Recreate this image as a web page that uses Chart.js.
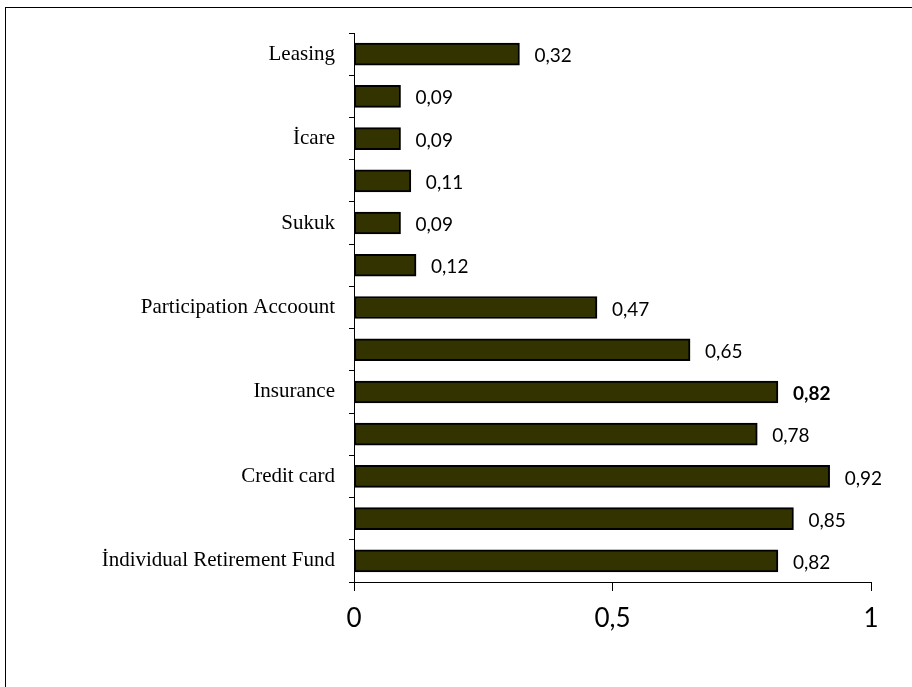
<!DOCTYPE html>
<html>
<head>
<meta charset="utf-8">
<script src="https://cdn.jsdelivr.net/npm/chart.js@4/dist/chart.umd.min.js"></script>
<style>
  html, body { margin: 0; padding: 0; background: #fff; overflow: hidden; }
  #wrap { width: 912px; height: 687px; }
</style>
</head>
<body>
<div id="wrap"><canvas id="grafico" width="912" height="687"></canvas></div>
<script>
// Categorías (solo se rotulan las alternas, como en el original)
var categorias = [
    "Leasing", "", "İcare", "", "Sukuk", "", "Participation Accoount",
    "", "Insurance", "", "Credit card", "", "İndividual Retirement Fund"
];
var valores = [0.32, 0.09, 0.09, 0.11, 0.09, 0.12, 0.47, 0.65, 0.82, 0.78, 0.92, 0.85, 0.82];
var etiquetasNegrita = [8]; // índice con la etiqueta en negrita
var ticksX = [0, 0.5, 1];

function formatoComa(v) {
    return String(v).replace('.', ',');
}

// Marco exterior
var marco = {
    id: 'marco',
    beforeDraw: function (chart) {
        var ctx = chart.ctx;
        ctx.save();
        ctx.fillStyle = '#fff';
        ctx.fillRect(0, 0, chart.width, chart.height);
        ctx.strokeStyle = '#000';
        ctx.lineWidth = 1;
        ctx.strokeRect(5.5, 7.5, 1000, 1000);
        ctx.restore();
    }
};

// Etiquetas de valor a la derecha de cada barra
var etiquetasValor = {
    id: 'etiquetasValor',
    afterDatasetsDraw: function (chart) {
        var ctx = chart.ctx;
        var meta = chart.getDatasetMeta(0);
        ctx.save();
        ctx.fillStyle = '#000';
        ctx.textBaseline = 'middle';
        ctx.textAlign = 'left';
        meta.data.forEach(function (bar, i) {
            var negrita = etiquetasNegrita.indexOf(i) >= 0;
            ctx.font = (negrita ? 'bold ' : '') + '19px Lato';
            ctx.fillText(formatoComa(valores[i]), bar.x + 15, bar.y + 2);
        });
        ctx.restore();
    }
};

var ctx = document.getElementById('grafico').getContext('2d');
var grafico = new Chart(ctx, {
    type: 'bar',
    data: {
        labels: categorias,
        datasets: [{
            data: valores,
            backgroundColor: '#333300',
            borderColor: '#000',
            borderWidth: 2,
            borderSkipped: false,
            barThickness: 22
        }]
    },
    options: {
        indexAxis: 'y',
        responsive: false,
        animation: false,
        layout: { padding: { top: 33, right: 41, bottom: 0, left: 0 } },
        plugins: {
            legend: { display: false },
            tooltip: { enabled: false }
        },
        scales: {
            y: {
                afterFit: function (s) { s.width = 354; },
                grid: { drawOnChartArea: false, drawTicks: true, tickLength: 5, color: '#000' },
                border: { display: true, color: '#000', width: 1 },
                ticks: {
                    autoSkip: false,
                    color: '#000',
                    padding: 14,
                    font: { family: '"Liberation Serif", "Times New Roman", serif', size: 21 }
                }
            },
            x: {
                min: 0,
                max: 1,
                afterFit: function (s) { s.height = 105; },
                afterBuildTicks: function (s) {
                    s.ticks = ticksX.map(function (v) { return { value: v }; });
                },
                grid: { drawOnChartArea: false, drawTicks: true, tickLength: 9, color: '#000' },
                border: { display: true, color: '#000', width: 1 },
                ticks: {
                    color: '#000',
                    padding: 12,
                    font: { family: 'Lato', size: 26 },
                    callback: function (v) { return formatoComa(v); }
                }
            }
        }
    },
    plugins: [marco, etiquetasValor]
});
</script>
</body>
</html>
